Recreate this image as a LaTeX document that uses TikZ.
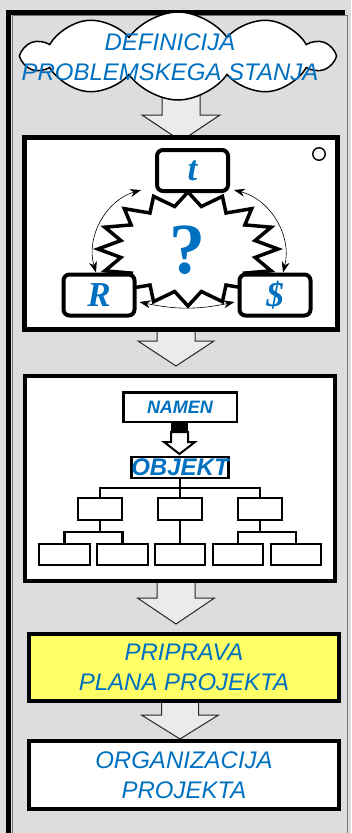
\documentclass[tikz,border=0pt]{standalone}
\usepackage{fontspec}
\setmainfont{Liberation Sans}
\newfontfamily\tnr{Liberation Serif}
\usetikzlibrary{shapes.symbols,arrows.meta,calc}
\definecolor{bg}{RGB}{221,221,221}
\definecolor{tblue}{RGB}{0,112,192}
\definecolor{ylw}{RGB}{255,255,102}
\definecolor{arrfill}{RGB}{235,235,235}
\newcommand{\blkarr}[6]{\draw[blk] ({#1-#5},#2) -- ({#1+#5},#2) -- ({#1+#5},#3) -- ({#1+#6},#3) -- (#1,#4) -- ({#1-#6},#3) -- ({#1-#5},#3) -- cycle;}
\begin{document}
\begin{tikzpicture}[x=1pt,y=-1pt,
  frame/.style={draw=black,line width=4pt,inner sep=0pt},
  lbl/.style={text=tblue,font=\itshape\fontsize{24}{30}\selectfont,align=center},
  blk/.style={draw=black!85,line width=1pt,fill=arrfill},
  rbox/.style={draw=black,line width=4pt,fill=white,rounded corners=6pt,minimum width=71pt,minimum height=41pt,inner sep=0pt},
  sym/.style={text=tblue,font=\tnr\bfseries\itshape\fontsize{35}{35}\selectfont},
  lvtwo/.style={draw=black,line width=2.4pt,fill=white,minimum width=43.5pt,minimum height=21.5pt,inner sep=0pt},
  lvthree/.style={draw=black,line width=2.4pt,fill=white,minimum width=50.5pt,minimum height=20.5pt,inner sep=0pt},
  tree/.style={draw=black,line width=2.2pt},
  dbl/.style={{Stealth[length=11pt,width=8pt]}-{Stealth[length=11pt,width=8pt]},line width=0.6pt},
]
\fill[bg] (0,0) rectangle (351,833);
\useasboundingbox (0,0) rectangle (351,833);
% outer frame
\draw[black!55,line width=0.8pt] (12,15) rectangle (347,845);
\draw[line width=5pt] (8.5,845) -- (8.5,12.5) -- (345,12.5);

% block arrows
\blkarr{181}{90}{115}{141}{19}{39}
\blkarr{176}{328}{341}{366}{19}{38}
\blkarr{176}{580}{598}{624}{19}{38.5}
\blkarr{180}{700}{715}{739}{18.5}{38.5}

% cloud
\node[cloud,cloud puffs=10,cloud puff arc=110,aspect=3.4,draw=black,line width=1.5pt,fill=white,
  minimum width=308pt,minimum height=88pt,inner sep=0pt] (cloud) at (178,56) {};
\node[lbl] (deftxt) at (170,57) {DEFINICIJA\\PROBLEMSKEGA STANJA};

% box 2
\node[frame,line width=5pt,fill=white,minimum width=313pt,minimum height=192pt] (box2) at (181,233.5) {};
\node[circle,draw=black,line width=1.4pt,fill=white,minimum size=12.5pt,inner sep=0pt] (ring) at (319,154) {};
\draw[draw=black,line width=3.5pt,fill=white,line join=miter]
  (278,249) \foreach \i [evaluate=\i as \r using {mod(\i,2)==0?1:0.76}] in {1,...,31} { -- ({188+90*\r*cos(\i*360/32)},{249+57*\r*sin(\i*360/32)}) } -- cycle;
\node[text=tblue,font=\tnr\bfseries\fontsize{72}{72}\selectfont,inner sep=0pt] (q) at (187,250) {?};
\node[rbox] (tb) at (192.5,170.5) {};
\node[sym] (tt) at (tb.center) {t};
\node[rbox] (rb) at (99,295) {};
\node[sym] (rt) at (rb.center) {R};
\node[rbox] (db) at (275,295) {};
\node[sym] (dt) at (db.center) {\$};
\draw[dbl] ($(tb.south west)+(-14,-3)$) to[bend right=45] ($(rb.north)+(-3,0)$);
\draw[dbl] ($(tb.south east)+(4,-3)$) to[bend left=45] ($(db.north)+(8,0)$);
\draw[dbl] ($(rb.east)+(3,7)$) to[bend right=12] ($(db.west)+(-3,7)$);

% box 3
\node[frame,fill=white,minimum width=310pt,minimum height=205pt] (box3) at (180,478.5) {};
\node[draw=black,line width=2.5pt,fill=white,minimum width=113.5pt,minimum height=29.5pt,inner sep=0pt,
  text=tblue,font=\bfseries\itshape\fontsize{18}{18}\selectfont] (namen) at (180,407) {NAMEN};
\fill[black] (171,423) rectangle (188,432);
\draw[draw=black,line width=2pt,fill=white,line join=miter]
  (171,432) -- (188,432) -- (188,442) -- (195,442) -- (179.5,454) -- (164,442) -- (171,442) -- cycle;
\node[draw=black,line width=2.4pt,fill=white,minimum width=94pt,minimum height=21pt,inner sep=0pt,
  text=tblue,font=\bfseries\itshape\fontsize{24}{24}\selectfont] (obj) at (180,467.5) {OBJEKT};
\node[lvtwo] (a1) at (100,509) {};
\node[lvtwo] (a2) at (180,509) {};
\node[lvtwo] (a3) at (260,509) {};
\node[lvthree] (b1) at (64.5,554.5) {};
\node[lvthree] (b2) at (122.5,554.5) {};
\node[lvthree] (b3) at (180,554.5) {};
\node[lvthree] (b4) at (238,554.5) {};
\node[lvthree] (b5) at (296,554.5) {};
\coordinate (j1) at ($(obj.south)!0.5!(a2.north)$);
\draw[tree] (obj.south) -- (a2.north);
\draw[tree] (a1.north) |- (j1) -| (a3.north);
\coordinate (j2) at ($(a1.south)!0.5!(a1.south |- b1.north)$);
\coordinate (j3) at ($(a3.south)!0.5!(a3.south |- b5.north)$);
\draw[tree] (a1.south) -- (j2);
\draw[tree] (b1.north) |- (j2) -| (b2.north);
\draw[tree] (a2.south) -- (b3.north);
\draw[tree] (a3.south) -- (j3);
\draw[tree] (b4.north) |- (j3) -| (b5.north);

% yellow box
\node[frame,fill=ylw,minimum width=310pt,minimum height=67pt,lbl] (plan) at (184,667.5) {PRIPRAVA\\PLANA PROJEKTA};
% white box
\node[frame,fill=white,minimum width=310pt,minimum height=68pt,lbl] (org) at (184,775) {ORGANIZACIJA\\PROJEKTA};
\end{tikzpicture}
\end{document}
